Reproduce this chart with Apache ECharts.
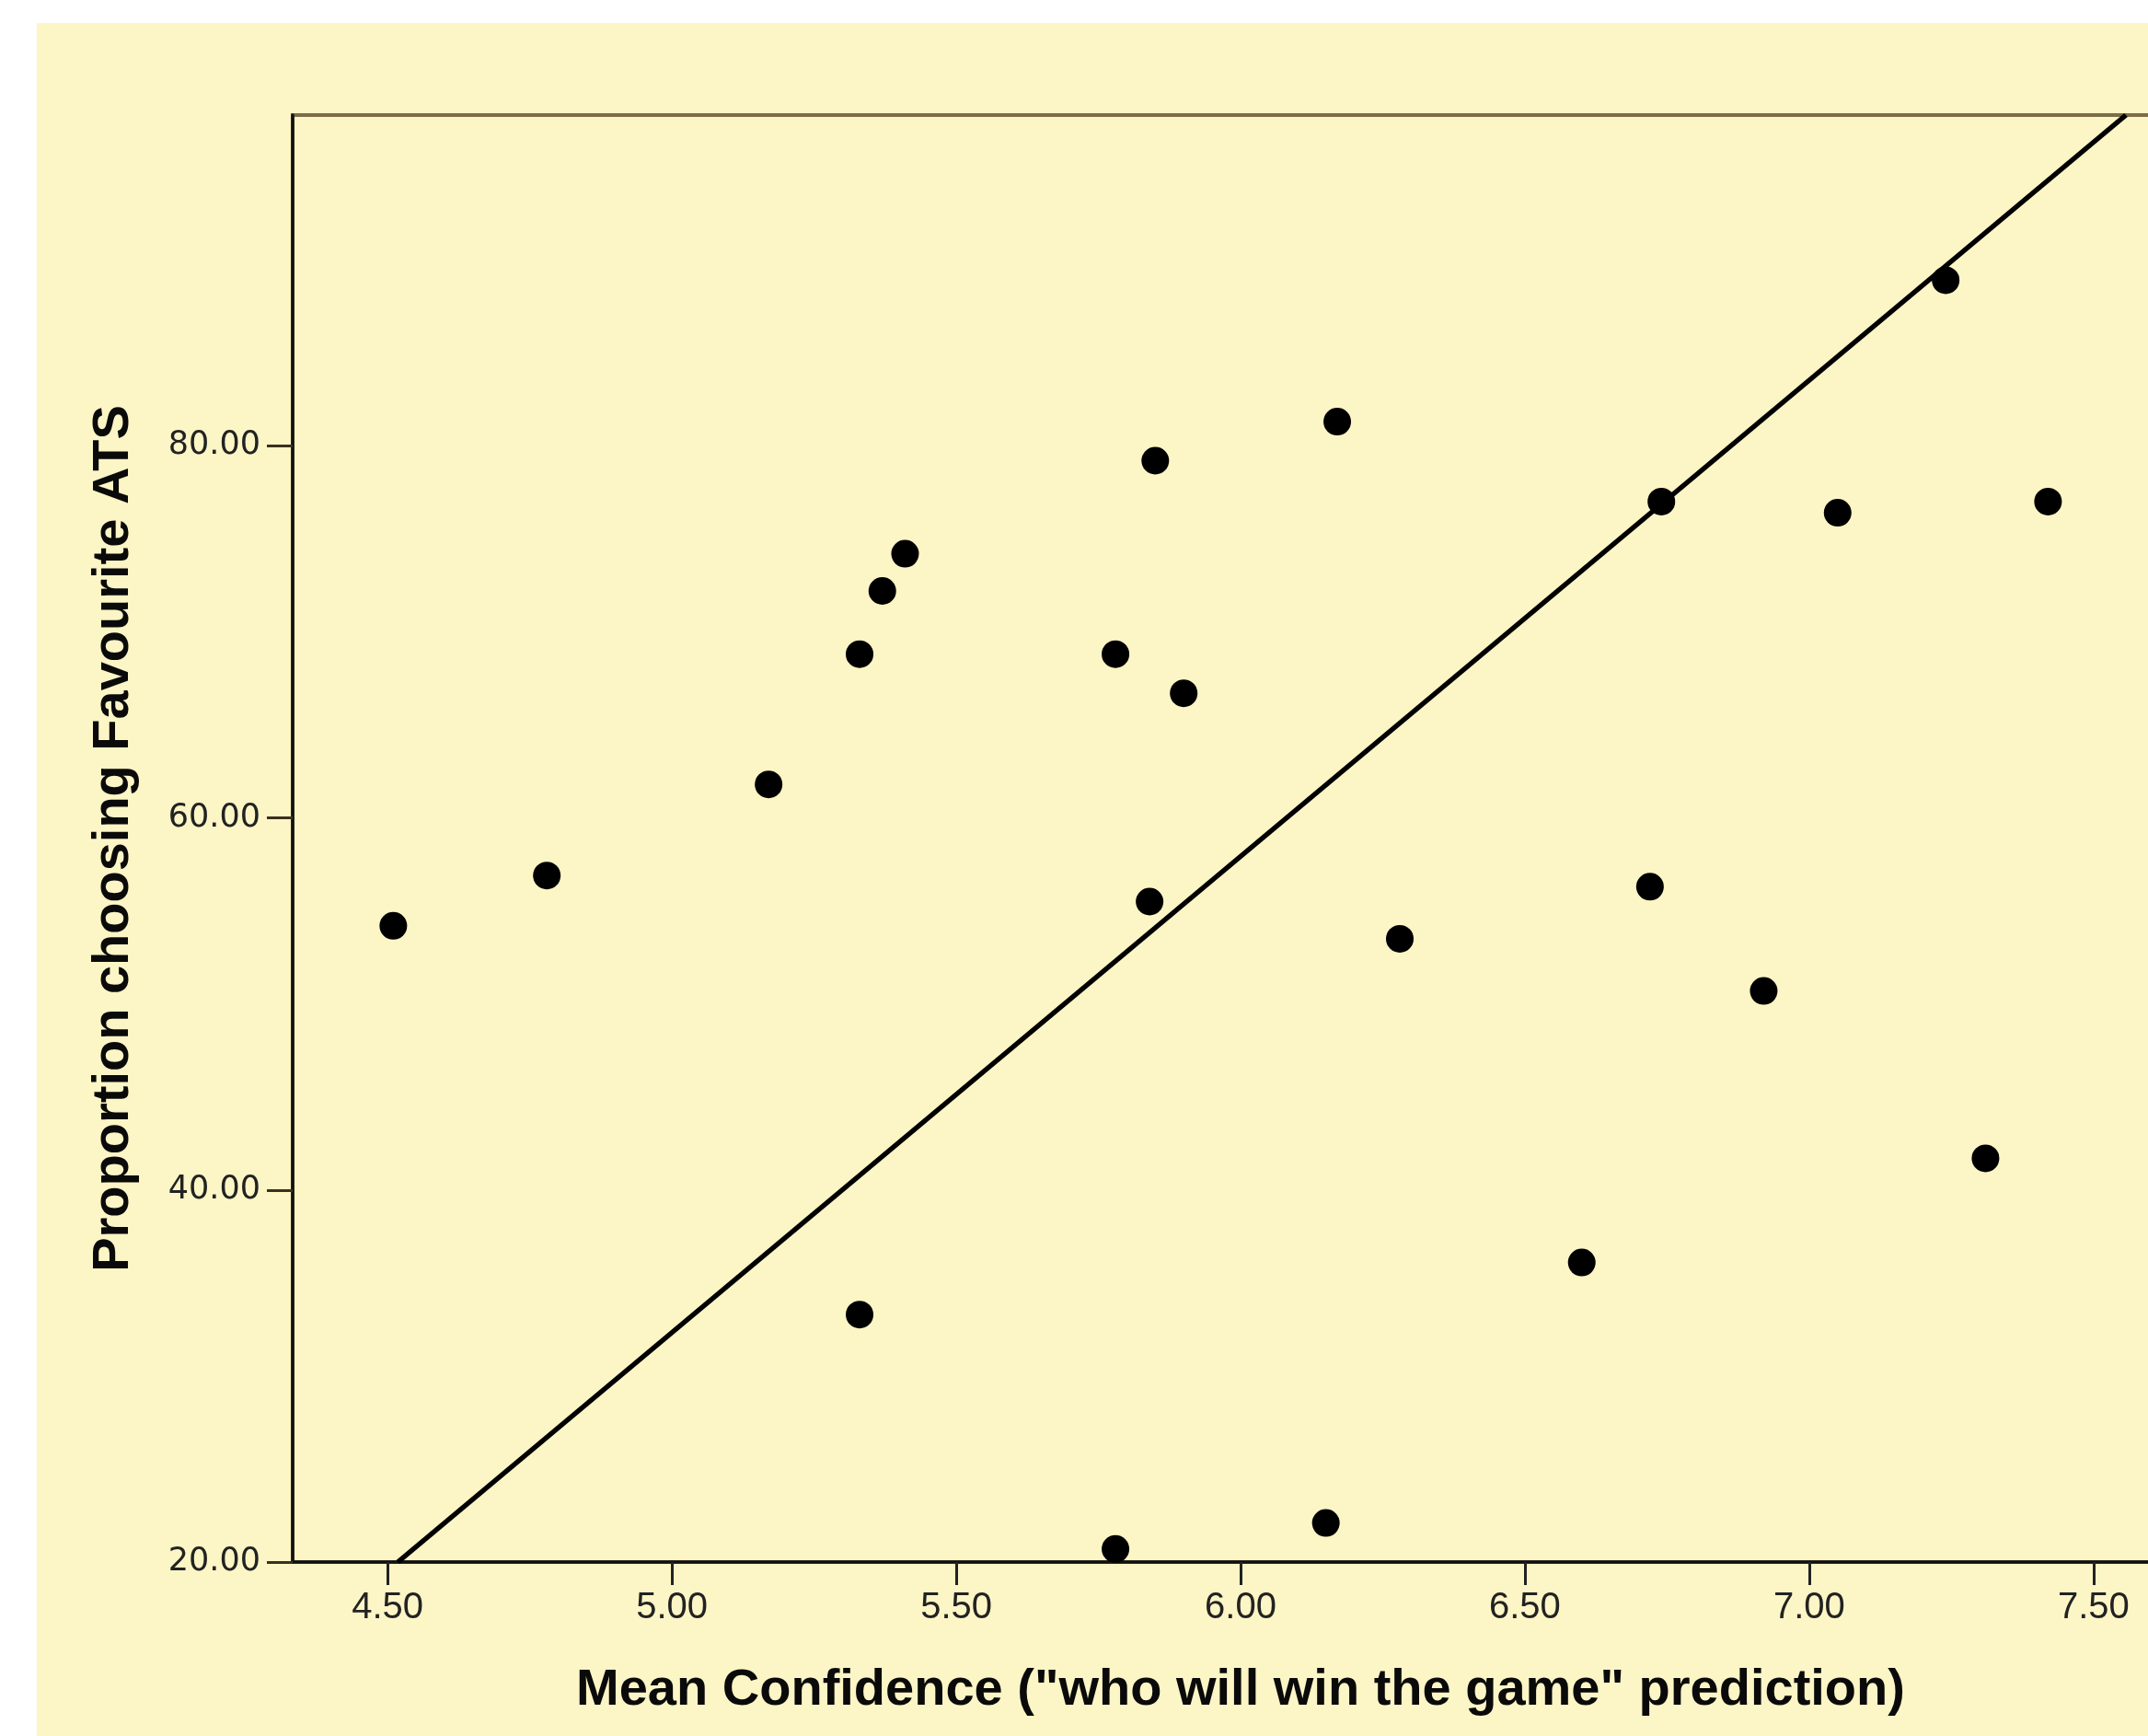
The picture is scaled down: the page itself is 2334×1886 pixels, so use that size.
<!DOCTYPE html>
<html>
<head>
<meta charset="utf-8">
<script src="https://cdn.jsdelivr.net/npm/echarts@6/dist/echarts.min.js"></script>
<style>
  html, body { margin: 0; padding: 0; background: #ffffff; width: 2334px; height: 1886px; overflow: hidden; position: relative; }
  #chart { position: absolute; left: 40px; top: 25px; width: 2338px; height: 1861px; }
</style>
</head>
<body>
<div id="chart"></div>
<script>
// Mean confidence (x) and proportion choosing favourite ATS (y)
const meanConfidence = [4.51, 4.78, 5.17, 5.33, 5.33, 5.37, 5.41, 5.78, 5.78, 5.84, 5.85, 5.90,
                        6.15, 6.17, 6.28, 6.60, 6.72, 6.74, 6.92, 7.05, 7.24, 7.31, 7.42];
const proportionFav = [54.2, 56.9, 61.8, 68.8, 33.3, 72.2, 74.2, 68.8, 20.7, 55.5, 79.2, 66.7,
                       22.1, 81.3, 53.5, 36.1, 56.3, 77.0, 50.7, 76.4, 88.9, 41.7, 77.0];
// Fitted line end points
const fitLineX = [4.518, 7.557];
const fitLineY = [20.0, 97.78];
// Tick labels
const xTicks = [4.5, 5.0, 5.5, 6.0, 6.5, 7.0, 7.5];
const yTicks = [20, 40, 60, 80];

const points = meanConfidence.map((x, i) => [x, proportionFav[i]]);
const fitLine = fitLineX.map((x, i) => [x, fitLineY[i]]);

const chart = echarts.init(document.getElementById('chart'), null, { renderer: 'canvas' });
chart.setOption({
  backgroundColor: '#fcf5c5',
  animation: false,
  grid: {
    left: 278, top: 100, bottom: 189, right: 0,
    show: true, borderColor: '#7d6b4a', borderWidth: 4, backgroundColor: 'transparent'
  },
  xAxis: {
    type: 'value',
    min: 4.333, max: 7.667,
    name: 'Mean Confidence ("who will win the game" prediction)',
    nameLocation: 'middle',
    nameGap: 112,
    nameTextStyle: { fontFamily: 'Liberation Sans', fontWeight: 'bold', fontSize: 56, color: '#0a0a0a' },
    axisLine: { show: true, lineStyle: { color: '#111', width: 3.5 } },
    axisTick: { show: true, length: 25, customValues: xTicks, lineStyle: { color: '#222', width: 3 } },
    axisLabel: {
      customValues: xTicks,
      formatter: v => v.toFixed(2),
      fontFamily: 'Liberation Sans', fontSize: 40, color: '#222', margin: 30
    },
    splitLine: { show: false }
  },
  yAxis: {
    type: 'value',
    min: 20, max: 97.78,
    name: 'Proportion choosing Favourite ATS',
    nameLocation: 'middle',
    nameGap: 166,
    nameTextStyle: { fontFamily: 'Liberation Sans', fontWeight: 'bold', fontSize: 56, color: '#0a0a0a' },
    axisLine: { show: true, lineStyle: { color: '#111', width: 3.5 } },
    axisTick: { show: true, length: 28, customValues: yTicks, lineStyle: { color: '#3a3020', width: 3 } },
    axisLabel: {
      customValues: yTicks,
      formatter: v => v.toFixed(2),
      fontFamily: 'DejaVu Sans', fontSize: 35, color: '#222', margin: 35
    },
    splitLine: { show: false }
  },
  series: [
    {
      type: 'line',
      data: fitLine,
      symbol: 'none',
      lineStyle: { color: '#000', width: 5.5 },
      z: 2
    },
    {
      type: 'scatter',
      data: points,
      symbol: 'circle',
      symbolSize: 30,
      itemStyle: { color: '#000', opacity: 1 },
      z: 3
    }
  ]
});
</script>
</body>
</html>
